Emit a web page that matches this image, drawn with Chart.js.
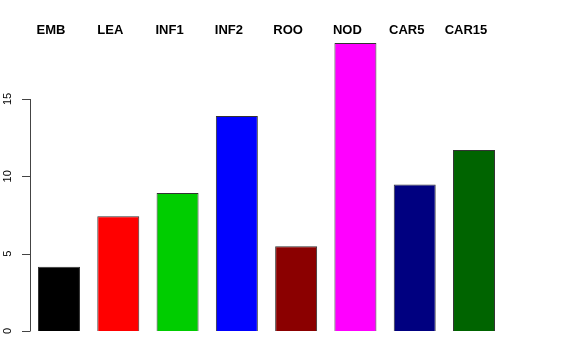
<!DOCTYPE html>
<html lang="en">
<head>
    <meta charset="UTF-8">
    <title>Barplot</title>
    <style>
        body { margin: 0; background: #fff; }
        #wrap { width: 576px; height: 360px; }
    </style>
    <script src="https://cdn.jsdelivr.net/npm/chart.js"></script>
</head>
<body>
    <div id="wrap"><canvas id="chart" width="576" height="360"></canvas></div>
    <script>
        // data
        const categories = ['EMB', 'LEA', 'INF1', 'INF2', 'ROO', 'NOD', 'CAR5', 'CAR15'];
        const values = [4.15, 7.42, 8.92, 13.9, 5.48, 18.62, 9.48, 11.7];
        const yTicks = [0, 5, 10, 15];
        const barColors = ['#000000', '#ff0000', '#00cd00', '#0000ff', '#8b0000', '#ff00ff', '#000080', '#006400'];

        // R style axis on the left + labels on top
        const rAxis = {
            id: 'rAxis',
            afterDraw(chart) {
                const c = chart.ctx, y = chart.scales.y, x = chart.scales.x;
                const ax = 30;
                c.save();
                c.strokeStyle = '#444';
                c.lineWidth = 1;
                c.beginPath();
                c.moveTo(ax + 0.5, y.getPixelForValue(yTicks[0]));
                c.lineTo(ax + 0.5, y.getPixelForValue(yTicks[yTicks.length - 1]));
                yTicks.forEach(t => {
                    let py = Math.round(y.getPixelForValue(t)) + 0.5;
                    c.moveTo(ax + 0.5, py);
                    c.lineTo(ax - 8, py);
                });
                c.stroke();
                c.fillStyle = '#000';
                c.font = '11px "Liberation Sans", Arial, sans-serif';
                c.textAlign = 'center';
                c.textBaseline = 'middle';
                yTicks.forEach(t => {
                    c.save();
                    c.translate(8, y.getPixelForValue(t));
                    c.rotate(-Math.PI / 2);
                    c.fillText(String(t), 0, 0);
                    c.restore();
                });
                c.font = 'bold 13px "Liberation Sans", Arial, sans-serif';
                categories.forEach((lab, i) => {
                    c.fillText(lab, x.getPixelForValue(i - 0.135), 30);
                });
                c.restore();
            }
        };

        new Chart(document.getElementById('chart'), {
            type: 'bar',
            data: {
                labels: categories,
                datasets: [{
                    data: values,
                    backgroundColor: barColors,
                    borderColor: '#333',
                    borderWidth: 1,
                    barPercentage: 0.708,
                    categoryPercentage: 1.0
                }]
            },
            options: {
                responsive: false,
                animation: false,
                layout: { padding: { left: 29.35, right: 72.35, top: 21.67, bottom: 29 } },
                plugins: { legend: { display: false }, tooltip: { enabled: false } },
                scales: {
                    x: { display: false },
                    y: { display: false, min: 0, max: 20 }
                }
            },
            plugins: [rAxis]
        });
    </script>
</body>
</html>
